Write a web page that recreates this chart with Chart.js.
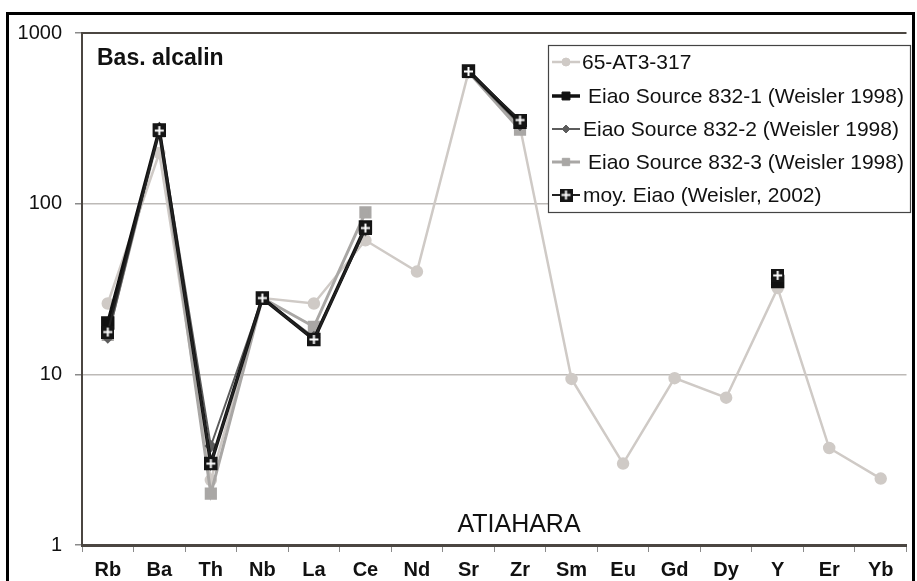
<!DOCTYPE html>
<html>
<head>
<meta charset="utf-8">
<title>Bas. alcalin - ATIAHARA</title>
<script src="https://cdn.jsdelivr.net/npm/chart.js@4/dist/chart.umd.min.js"></script>
<style>
  html, body { margin: 0; padding: 0; background: #fff; }
  #wrap { width: 917px; height: 581px; position: relative; }
</style>
</head>
<body>
<div id="wrap"><canvas id="spider"></canvas></div>
<script>
// Elements (x axis)
const elements = ['Rb', 'Ba', 'Th', 'Nb', 'La', 'Ce', 'Nd', 'Sr', 'Zr', 'Sm', 'Eu', 'Gd', 'Dy', 'Y', 'Er', 'Yb'];

// Normalised values
const at3_317 = [26, 198, 2.4, 28, 26, 61, 40, 590, 281, 9.4, 3.0, 9.5, 7.3, 32, 3.7, 2.45];
const eiao832_1 = [20, 270, 3.0, 28, 16, 73, null, 600, 300, null, null, null, null, 35, null, null];
const eiao832_2 = [16.5, 277, 3.8, 28, 16.5, 70, null, 590, 290, null, null, null, null, 35, null, null];
const eiao832_3 = [17, 265, 2.0, 28, 19, 89, null, 590, 271, null, null, null, null, 35, null, null];
const moyEiao = [17.7, 268, 3.0, 28, 16, 72, null, 595, 309, null, null, null, null, 38, null, null];

const yTicks = [1, 10, 100, 1000];

const seriesNames = [
    '65-AT3-317',
    'Eiao Source 832-1 (Weisler 1998)',
    'Eiao Source 832-2 (Weisler 1998)',
    'Eiao Source 832-3 (Weisler 1998)',
    'moy. Eiao (Weisler, 2002)'
];

// Black square with a white cross, for the average
function crossSquare(size) {
    const c = document.createElement('canvas');
    c.width = size;
    c.height = size;
    const g = c.getContext('2d');
    g.fillStyle = '#151515';
    g.fillRect(0, 0, size, size);
    g.strokeStyle = '#ffffff';
    g.lineWidth = 2;
    g.beginPath();
    g.moveTo(size / 2, 2);
    g.lineTo(size / 2, size - 2);
    g.moveTo(2, size / 2);
    g.lineTo(size - 2, size / 2);
    g.stroke();
    return c;
}
const crossImg = crossSquare(13);

// Outer frame, plot frame, titles and legend
const decorPlugin = {
    id: 'decor',
    afterDraw(chart) {
        const ctx = chart.ctx;
        const area = chart.chartArea;
        ctx.save();

        // plot frame (left and top)
        ctx.strokeStyle = '#4b4641';
        ctx.lineWidth = 2;
        ctx.beginPath();
        ctx.moveTo(area.left, area.bottom);
        ctx.lineTo(area.left, area.top);
        ctx.lineTo(area.right, area.top);
        ctx.stroke();

        // outer frame
        ctx.strokeStyle = '#000';
        ctx.lineWidth = 3;
        ctx.strokeRect(7.5, 13.5, 906, 580);

        // texts
        ctx.fillStyle = '#111';
        ctx.textBaseline = 'alphabetic';
        ctx.font = 'bold 23px "Liberation Sans", Arial, sans-serif';
        ctx.textAlign = 'left';
        ctx.fillText('Bas. alcalin', 97, 65);
        ctx.font = '25px "Liberation Sans", Arial, sans-serif';
        ctx.textAlign = 'center';
        ctx.fillText('ATIAHARA', 519, 532);

        // legend box
        const bx = 548, by = 45, bw = 362, bh = 167;
        ctx.fillStyle = '#fff';
        ctx.fillRect(bx, by, bw, bh);
        ctx.strokeStyle = '#444';
        ctx.lineWidth = 1.2;
        ctx.strokeRect(bx + 0.5, by + 0.5, bw, bh);

        const rowY = [62, 96, 129, 162, 195];
        const textX = [582, 588, 583, 588, 583];
        chart.data.datasets.forEach((ds, i) => {
            const y = rowY[i];
            ctx.strokeStyle = ds.borderColor;
            ctx.lineWidth = ds.borderWidth;
            ctx.beginPath();
            ctx.moveTo(552, y);
            ctx.lineTo(580, y);
            ctx.stroke();
            ctx.fillStyle = ds.borderColor;
            ctx.lineWidth = 1;
            Chart.helpers.drawPoint(ctx, {
                pointStyle: ds.pointStyle,
                radius: ds.pointRadius * 0.8,
                borderWidth: 1
            }, 566, y);
            ctx.fillStyle = '#111';
            ctx.font = '21px "Liberation Sans", Arial, sans-serif';
            ctx.textAlign = 'left';
            ctx.textBaseline = 'middle';
            ctx.fillText(seriesNames[i], textX[i], y + 1);
        });
        ctx.restore();
    }
};

function makeDataset(i, data, color, width, style, radius, order) {
    return {
        label: seriesNames[i],
        data: data,
        borderColor: color,
        backgroundColor: color,
        pointBackgroundColor: color,
        pointBorderColor: color,
        borderWidth: width,
        pointStyle: style,
        pointRadius: radius,
        pointHoverRadius: radius,
        tension: 0,
        spanGaps: false,
        order: order
    };
}

const datasets = [
    makeDataset(0, at3_317, '#cfcac6', 2.5, 'circle', 5, 5),
    makeDataset(1, eiao832_1, '#111111', 3.5, 'rect', 7, 2),
    makeDataset(2, eiao832_2, '#5c5c5c', 2, 'rectRot', 5, 3),
    makeDataset(3, eiao832_3, '#a9a7a5', 3, 'rect', 6.5, 4),
    makeDataset(4, moyEiao, '#222222', 2, crossImg, 6.5, 1)
];

new Chart(document.getElementById('spider'), {
    type: 'line',
    data: { labels: elements, datasets: datasets },
    options: {
        responsive: true,
        maintainAspectRatio: false,
        animation: false,
        layout: { padding: { top: 33, right: 3, left: 0, bottom: 0 } },
        plugins: {
            legend: { display: false },
            tooltip: { enabled: false }
        },
        scales: {
            x: {
                type: 'category',
                offset: true,
                afterFit(scale) { scale.height = 36; },
                grid: {
                    offset: true,
                    drawOnChartArea: false,
                    drawTicks: true,
                    tickLength: 7,
                    tickColor: '#8a8a8a'
                },
                border: { display: true, color: '#4b4641', width: 3 },
                ticks: {
                    color: '#111',
                    padding: 6,
                    maxRotation: 0,
                    autoSkip: false,
                    font: { family: '"Liberation Sans", Arial, sans-serif', size: 20, weight: 'bold' }
                }
            },
            y: {
                type: 'logarithmic',
                min: 1,
                max: 1000,
                afterFit(scale) { scale.width = 82; },
                afterBuildTicks(scale) {
                    scale.ticks = yTicks.map(v => ({ value: v }));
                },
                grid: {
                    color: ctx => (ctx.tick && (ctx.tick.value === 10 || ctx.tick.value === 100)) ? '#bdbab7' : 'rgba(0,0,0,0)',
                    lineWidth: 1.5,
                    tickLength: 7,
                    tickColor: '#8a8a8a'
                },
                border: { display: true, color: '#4b4641', width: 2 },
                ticks: {
                    color: '#111',
                    padding: 13,
                    callback: v => yTicks.includes(v) ? String(v) : '',
                    font: { family: '"Liberation Sans", Arial, sans-serif', size: 20 }
                }
            }
        }
    },
    plugins: [decorPlugin]
});
</script>
</body>
</html>
